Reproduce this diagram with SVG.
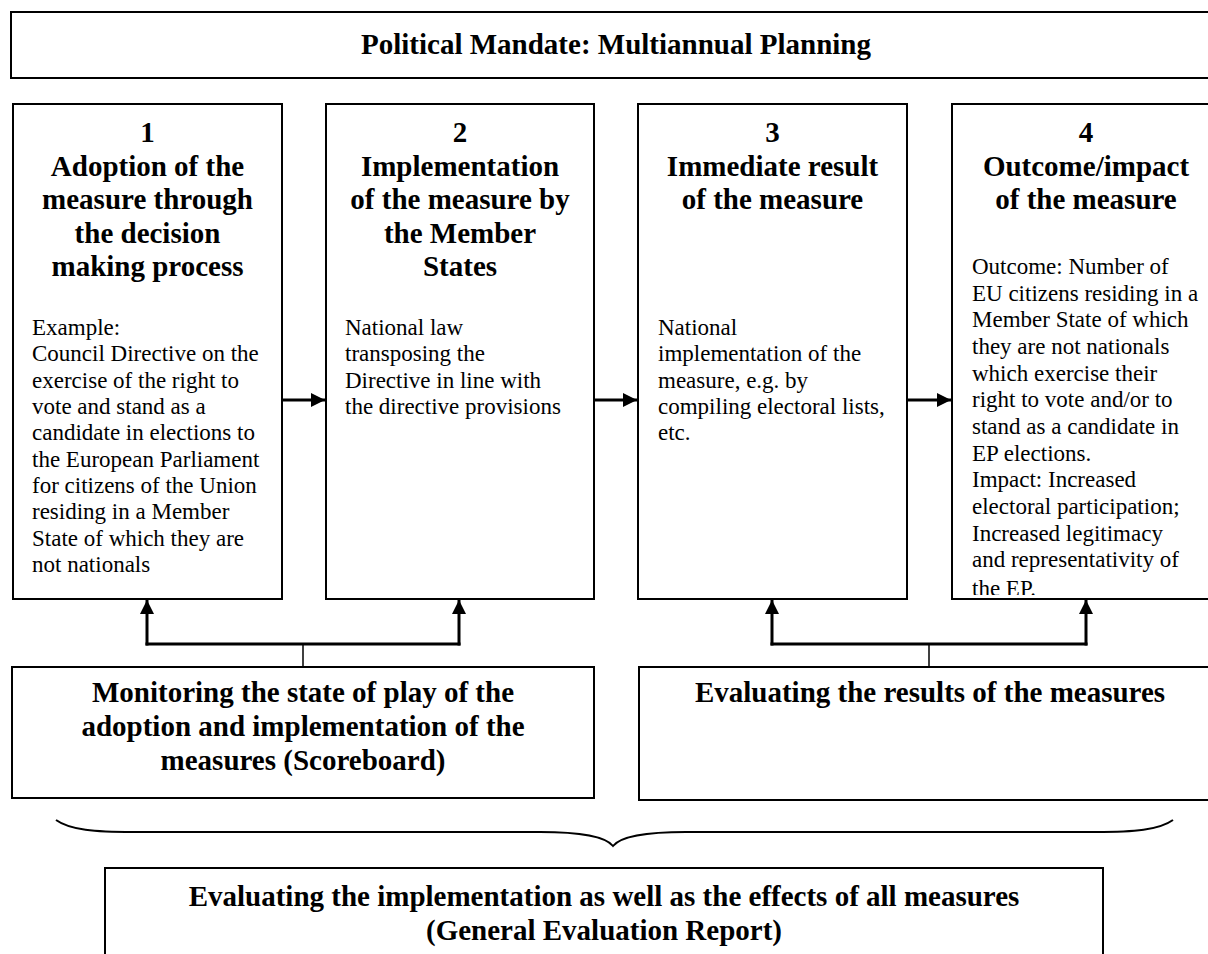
<svg xmlns="http://www.w3.org/2000/svg" width="1208" height="954" viewBox="0 0 1208 954">
<style>
.box{fill:#fff;stroke:#000;stroke-width:2}
.h{font-family:"Liberation Serif","Times New Roman",serif;font-weight:bold;font-size:29px;fill:#000;text-anchor:middle}
.b{font-family:"Liberation Serif","Times New Roman",serif;font-size:23px;fill:#000}
.arr{stroke:#000;stroke-width:3;fill:none}
.thin{stroke:#000;stroke-width:1.5;fill:none}
</style>
<defs>
<marker id="ah" markerWidth="14" markerHeight="14" refX="14" refY="7" orient="auto" markerUnits="userSpaceOnUse"><path d="M0,0 L14,7 L0,14 z" fill="#000"/></marker>
<clipPath id="c4"><rect x="952" y="104" width="270" height="491"/></clipPath>
</defs>
<rect width="1208" height="954" fill="#fff"/>

<g id="mandate">
<rect class="box" x="11" y="12" width="1210" height="66"/>
<text class="h" x="616" y="54">Political Mandate: Multiannual Planning</text>
</g>

<g id="step1">
<rect class="box" x="13" y="104" width="269" height="495"/>
<text class="h" x="147.5" y="142">1</text>
<text class="h" x="147.5" y="176">Adoption of the</text>
<text class="h" x="147.5" y="209">measure through</text>
<text class="h" x="147.5" y="243">the decision</text>
<text class="h" x="147.5" y="276">making process</text>
<text class="b" x="32" y="335">Example:</text>
<text class="b" x="32" y="361">Council Directive on the</text>
<text class="b" x="32" y="388">exercise of the right to</text>
<text class="b" x="32" y="414">vote and stand as a</text>
<text class="b" x="32" y="440">candidate in elections to</text>
<text class="b" x="32" y="467">the European Parliament</text>
<text class="b" x="32" y="493">for citizens of the Union</text>
<text class="b" x="32" y="519">residing in a Member</text>
<text class="b" x="32" y="546">State of which they are</text>
<text class="b" x="32" y="572">not nationals</text>
</g>

<g id="step2">
<rect class="box" x="326" y="104" width="268" height="495"/>
<text class="h" x="460" y="142">2</text>
<text class="h" x="460" y="176">Implementation</text>
<text class="h" x="460" y="209">of the measure by</text>
<text class="h" x="460" y="243">the Member</text>
<text class="h" x="460" y="276">States</text>
<text class="b" x="345" y="335">National law</text>
<text class="b" x="345" y="361">transposing the</text>
<text class="b" x="345" y="388">Directive in line with</text>
<text class="b" x="345" y="414">the directive provisions</text>
</g>

<g id="step3">
<rect class="box" x="638" y="104" width="269" height="495"/>
<text class="h" x="772.5" y="142">3</text>
<text class="h" x="772.5" y="176">Immediate result</text>
<text class="h" x="772.5" y="209">of the measure</text>
<text class="b" x="658" y="335">National</text>
<text class="b" x="658" y="361">implementation of the</text>
<text class="b" x="658" y="388">measure, e.g. by</text>
<text class="b" x="658" y="414">compiling electoral lists,</text>
<text class="b" x="658" y="440">etc.</text>
</g>

<g id="step4">
<rect class="box" x="952" y="104" width="268" height="495"/>
<text class="h" x="1086" y="142">4</text>
<text class="h" x="1086" y="176">Outcome/impact</text>
<text class="h" x="1086" y="209">of the measure</text>
<g clip-path="url(#c4)">
<text class="b" x="972" y="274">Outcome: Number of</text>
<text class="b" x="972" y="300.7">EU citizens residing in a</text>
<text class="b" x="972" y="327.3">Member State of which</text>
<text class="b" x="972" y="354">they are not nationals</text>
<text class="b" x="972" y="380.7">which exercise their</text>
<text class="b" x="972" y="407.3">right to vote and/or to</text>
<text class="b" x="972" y="434">stand as a candidate in</text>
<text class="b" x="972" y="460.7">EP elections.</text>
<text class="b" x="972" y="487.3">Impact: Increased</text>
<text class="b" x="972" y="514">electoral participation;</text>
<text class="b" x="972" y="540.7">Increased legitimacy</text>
<text class="b" x="972" y="567.3">and representativity of</text>
<text class="b" x="972" y="596">the EP.</text>
</g>
</g>

<g id="monitoring">
<rect class="box" x="12" y="667" width="582" height="131"/>
<text class="h" x="303" y="702">Monitoring the state of play of the</text>
<text class="h" x="303" y="736">adoption and implementation of the</text>
<text class="h" x="303" y="770">measures (Scoreboard)</text>
</g>

<g id="evaluating-results">
<rect class="box" x="639" y="667" width="582" height="133"/>
<text class="h" x="930" y="702">Evaluating the results of the measures</text>
</g>

<g id="general-evaluation">
<rect class="box" x="105" y="868" width="998" height="100"/>
<text class="h" x="604" y="906">Evaluating the implementation as well as the effects of all measures</text>
<text class="h" x="604" y="940">(General Evaluation Report)</text>
</g>

<g id="connectors">
<line class="arr" x1="282" y1="400" x2="325" y2="400" marker-end="url(#ah)"/>
<line class="arr" x1="594" y1="400" x2="637" y2="400" marker-end="url(#ah)"/>
<line class="arr" x1="907" y1="400" x2="951" y2="400" marker-end="url(#ah)"/>
<line class="arr" x1="145.5" y1="644" x2="460.5" y2="644"/>
<line class="arr" x1="147" y1="645.5" x2="147" y2="600" marker-end="url(#ah)"/>
<line class="arr" x1="459" y1="645.5" x2="459" y2="600" marker-end="url(#ah)"/>
<line class="thin" x1="303" y1="644" x2="303" y2="667"/>
<line class="arr" x1="770.5" y1="644" x2="1087.5" y2="644"/>
<line class="arr" x1="772" y1="645.5" x2="772" y2="600" marker-end="url(#ah)"/>
<line class="arr" x1="1086" y1="645.5" x2="1086" y2="600" marker-end="url(#ah)"/>
<line class="thin" x1="929" y1="644" x2="929" y2="667"/>
<path class="thin" style="stroke-width:2" d="M56,820 C70,830 95,832 133,832 L540,832 C580,832 605,836 613,846 C621,836 646,832 686,832 L1096,832 C1134,832 1159,830 1173,820"/>
</g>
</svg>
